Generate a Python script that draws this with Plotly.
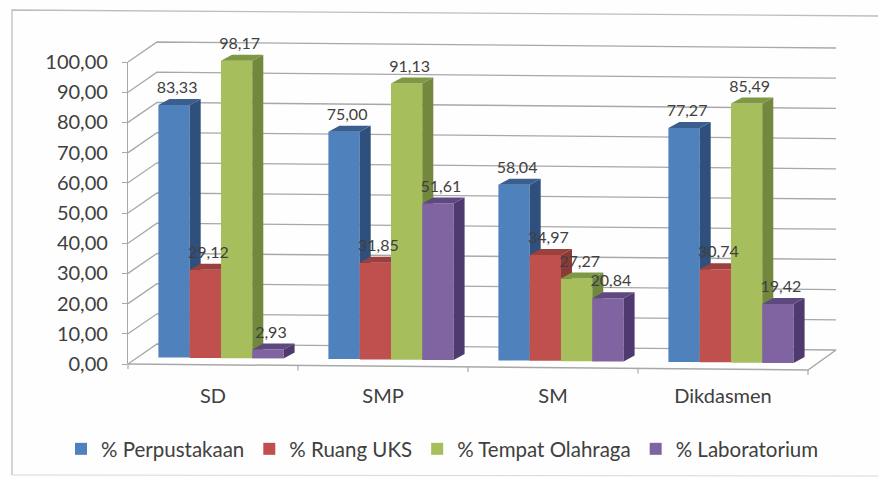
import plotly.graph_objects as go

categories = ["SD", "SMP", "SM", "Dikdasmen"]
perpustakaan = [83.33, 75.00, 58.04, 77.27]
ruang_uks = [29.12, 31.85, 34.97, 30.74]
tempat_olahraga = [98.17, 91.13, 27.27, 85.49]
laboratorium = [2.93, 51.61, 20.84, 19.42]
series_names = ["% Perpustakaan", "% Ruang UKS", "% Tempat Olahraga", "% Laboratorium"]
y_ticks = [0, 10, 20, 30, 40, 50, 60, 70, 80, 90, 100]
y_tick_labels = ["0,00", "10,00", "20,00", "30,00", "40,00", "50,00", "60,00", "70,00", "80,00", "90,00", "100,00"]

series_values = [perpustakaan, ruang_uks, tempat_olahraga, laboratorium]
front_colors = ["#4F81BD", "#C0504D", "#A6BE5C", "#8064A2"]
side_colors = ["#2F4F7C", "#8C3A38", "#72883C", "#4E3A6E"]
top_colors = ["#3A5F8E", "#9A403D", "#7F9844", "#5E4880"]

W, H = 878, 478
PX_X = 170.0            # pixels per category
PX_Y = 3.03             # pixels per value unit
X0 = 128.0              # pixel of category-axis start
Y0 = 357.2              # pixel of value 0 on the bar plane
TILT = 0.0088           # scan tilt of the picture
BAR_W = 31.3 / PX_X
BAR_SHIFT = 0.047
DEPTH_X, DEPTH_Y = 11 / PX_X, 6 / PX_Y
GRID = "#A8A8A8"
TEXT = "#404040"


def tilt(xu):
    return -(xu * PX_X * TILT) / PX_Y


def to_data(xp, yp):
    return (xp - X0) / PX_X, (Y0 - yp) / PX_Y


fig = go.Figure()

# walls and floor
wall_l, wall_r, wall_y0, front_y0 = 157, 836, 344, 364
gx, gy = [], []
for t in y_ticks:
    pts = [(X0, front_y0 - 3.02 * t), (wall_l, wall_y0 - 3.02 * t),
           (wall_r, wall_y0 + 6 - 3.02 * t)]
    for p in pts:
        a, b = to_data(*p)
        gx.append(a)
        gy.append(b)
    gx.append(None)
    gy.append(None)
fx, fy = [], []
for p in [(wall_r, wall_y0 + 6), (808, front_y0 + 6), (X0, front_y0)]:
    a, b = to_data(*p)
    fx.append(a)
    fy.append(b)
fig.add_trace(go.Scatter(x=gx, y=gy, mode="lines", line=dict(color=GRID, width=1.3),
                         showlegend=False, hoverinfo="skip"))
fig.add_trace(go.Scatter(x=fx, y=fy, mode="lines", line=dict(color=GRID, width=1.5),
                         showlegend=False, hoverinfo="skip"))
# category ticks on the tilted floor line
tx, ty = [], []
for i in range(5):
    xp = X0 + i * PX_X
    yp = front_y0 + (xp - X0) * TILT
    for p in [(xp, yp), (xp, yp + 5)]:
        a, b = to_data(*p)
        tx.append(a)
        ty.append(b)
    tx.append(None)
    ty.append(None)
fig.add_trace(go.Scatter(x=tx, y=ty, mode="lines", line=dict(color=GRID, width=1.2),
                         showlegend=False, hoverinfo="skip"))

# bars, one overlaid subplot per series so that later fronts cover earlier sides
for j, (name, vals) in enumerate(zip(series_names, series_values)):
    xa = f"x{j + 3}"
    ya = f"y{j + 3}"
    xs = [i + 0.5 + BAR_SHIFT + (j - 1.5) * BAR_W for i in range(4)]
    bases = [tilt(x) for x in xs]
    fig.add_trace(go.Bar(x=xs, y=vals, base=bases, width=BAR_W, name=name, xaxis=xa, yaxis=ya,
                         marker=dict(color=front_colors[j], line=dict(width=0)),
                         hovertemplate="%{y:.2f}<extra>" + name + "</extra>"))
    sx, sy, ux, uy = [], [], [], []
    for x, b, v in zip(xs, bases, vals):
        r, l = x + BAR_W / 2, x - BAR_W / 2
        sx += [r, r, r + DEPTH_X, r + DEPTH_X, r, None]
        sy += [b, b + v, b + v + DEPTH_Y, b + DEPTH_Y, b, None]
        ux += [l, r, r + DEPTH_X, l + DEPTH_X, l, None]
        uy += [b + v, b + v, b + v + DEPTH_Y, b + v + DEPTH_Y, b + v, None]
    fig.add_trace(go.Scatter(x=sx, y=sy, mode="lines", fill="toself", fillcolor=side_colors[j],
                             line=dict(width=0), xaxis=xa, yaxis=ya, showlegend=False, hoverinfo="skip"))
    fig.add_trace(go.Scatter(x=ux, y=uy, mode="lines", fill="toself", fillcolor=top_colors[j],
                             line=dict(width=0), xaxis=xa, yaxis=ya, showlegend=False, hoverinfo="skip"))

# value labels on top of everything
for j, vals in enumerate(series_values):
    xs = [i + 0.5 + BAR_SHIFT + (j - 1.5) * BAR_W + 3 / PX_X for i in range(4)]
    ys = [v + tilt(x) + 16 / PX_Y for x, v in zip(xs, vals)]
    fig.add_trace(go.Scatter(x=xs, y=ys, mode="text", xaxis="x7", yaxis="y7",
                             text=[f"{v:.2f}".replace(".", ",") for v in vals],
                             textposition="middle center",
                             textfont=dict(family="Lato", size=16, color=TEXT),
                             showlegend=False, hoverinfo="skip"))

# invisible carrier for the category / value axes of the front plane
fig.add_trace(go.Scatter(x=categories, y=[0, 0, 0, 0], mode="lines", line=dict(width=0),
                         xaxis="x2", yaxis="y2", showlegend=False, hoverinfo="skip"))

xr = [-X0 / PX_X, (W - X0) / PX_X]
yr = [(Y0 - H) / PX_Y, Y0 / PX_Y]
hidden = dict(visible=False, fixedrange=True, showgrid=False, zeroline=False)
layout = dict(
    width=W, height=H, margin=dict(l=0, r=0, t=0, b=0, autoexpand=False),
    paper_bgcolor="#FEFEFE", plot_bgcolor="rgba(0,0,0,0)",
    showlegend=True, barmode="overlay",
    xaxis=dict(range=xr, domain=[0, 1], **hidden),
    yaxis=dict(range=yr, domain=[0, 1], **hidden),
    xaxis2=dict(domain=[X0 / W, 808 / W], anchor="y2", type="category",
                categoryorder="array", categoryarray=categories, range=[-0.5, 3.5],
                showline=False, showgrid=False, ticks="", zeroline=False,
                ticklabelstandoff=18,
                tickfont=dict(family="Lato", size=20, color=TEXT)),
    yaxis2=dict(domain=[(H - 364) / H, (H - 62) / H], anchor="x2", range=[0, 100],
                tickvals=y_ticks, ticktext=y_tick_labels, showgrid=False, zeroline=False,
                showline=True, linecolor=GRID, linewidth=1.3, ticks="outside", ticklen=5,
                tickcolor=GRID, ticklabelstandoff=10,
                tickfont=dict(family="Lato", size=20, color=TEXT)),
    legend=dict(orientation="h", xref="container", yref="container",
                x=61 / W, y=1 - 449 / H, xanchor="left", yanchor="middle",
                font=dict(family="Lato", size=20.5, color=TEXT), bgcolor="rgba(0,0,0,0)",
                itemclick=False, itemdoubleclick=False),
    shapes=[dict(type="path", xref="paper", yref="paper", layer="below",
                 path=f"M {12 / W} {1 - 475 / H} L {12 / W} {1 - 10 / H} L 1 {1 - 16 / H}",
                 line=dict(color="#BDBDBD", width=1.3)),
            dict(type="line", xref="paper", yref="paper", layer="below",
                 x0=12 / W, y0=1 - 475 / H, x1=1, y1=1 - 476 / H,
                 line=dict(color="#D8D8D8", width=1))],
)
for k in (3, 4, 5, 6, 7):
    layout[f"xaxis{k}"] = dict(range=xr, overlaying="x", **hidden)
    layout[f"yaxis{k}"] = dict(range=yr, overlaying="y", **hidden)
fig.update_layout(**layout)
fig.write_html("out.html", config=dict(displayModeBar=False),
               post_script="document.body.style.margin='0';document.body.style.overflow='hidden';")
